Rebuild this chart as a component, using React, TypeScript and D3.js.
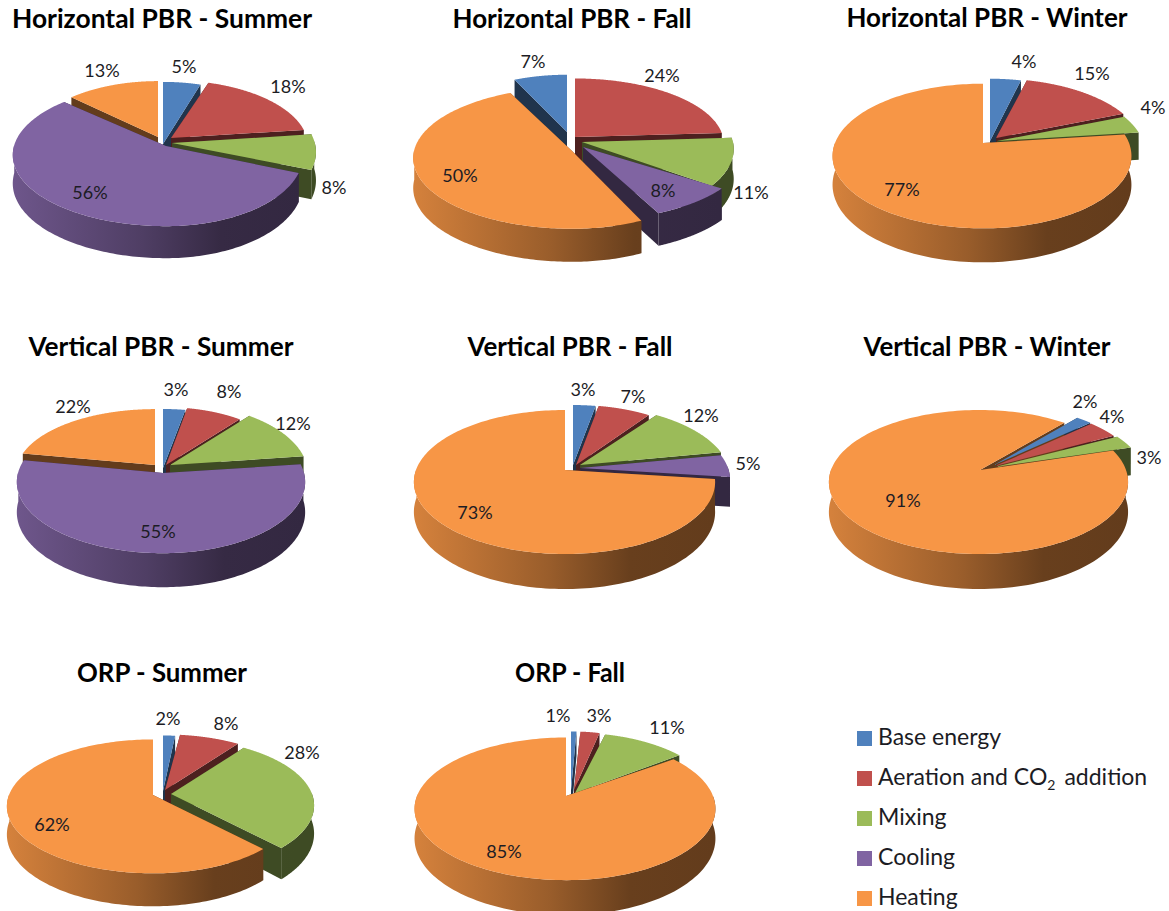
import React from "react";
import * as d3 from "d3";

const categories = ["Base energy", "Aeration and CO2 addition", "Mixing", "Cooling", "Heating"];
const colors = ["#4f81bd", "#c0504d", "#9bbb59", "#8064a2", "#f79646"];

const titles = [
  "Horizontal PBR - Summer", "Horizontal PBR - Fall", "Horizontal PBR - Winter",
  "Vertical PBR - Summer", "Vertical PBR - Fall", "Vertical PBR - Winter",
  "ORP - Summer", "ORP - Fall",
];
const horizontalSummer = [5, 18, 8, 56, 13];
const horizontalFall = [7, 24, 11, 8, 50];
const horizontalWinter = [4, 15, 4, 0, 77];
const verticalSummer = [3, 8, 12, 55, 22];
const verticalFall = [3, 7, 12, 5, 73];
const verticalWinter = [2, 4, 3, 0, 91];
const orpSummer = [2, 8, 28, 0, 62];
const orpFall = [1, 3, 11, 0, 85];
const seriesValues = [
  horizontalSummer, horizontalFall, horizontalWinter,
  verticalSummer, verticalFall, verticalWinter,
  orpSummer, orpFall,
];

// Layout only: projection of each pie and the pull-out of each slice.
type Layout = {
  tx: number; tw: number; ty: number;
  cx: number; cy: number; rl: number; rr: number; ry: number; t: number; depth: number;
  rot: number; order: number[];
  sl: number[][]; lab: number[][];
};
const layouts: Layout[] = [
  { tx: 162, tw: 300, ty: 28, cx: 165, cy: 143, rl: 152, rr: 136, ry: 70, t: 0.127, depth: 32, rot: 0, order: [0, 1, 4, 2, 3],
    sl: [[-2, 1, 1, 1], [6, -5, 1, 0.93], [7, 0, 1.05, 1], [1, 3, 1, 1], [-7, -6, 0.85, 0.9]],
    lab: [[184, 67], [288, 87], [334, 188], [90, 193], [102, 71]] },
  { tx: 572, tw: 239, ty: 28, cx: 572, cy: 151, rl: 158, rr: 148, ry: 70, t: 0.1, depth: 33, rot: -25.2, order: [0, 1, 2, 3, 4],
    sl: [[-5, -19, 0.85, 0.9], [3, -14, 1, 0.92], [10, -9, 1.02, 1], [11, -4, 1.09, 0.95], [0, 0, 1, 1]],
    lab: [[533, 62], [662, 76], [751, 193], [663, 191], [460, 176]] },
  { tx: 987, tw: 281, ty: 27, cx: 983, cy: 143, rl: 148, rr: 146, ry: 70, t: 0.18, depth: 34, rot: 0, order: [0, 1, 2, 4],
    sl: [[7, -2, 1, 1.05], [13, -5, 1, 1], [14, -2, 1, 1], [0, 0, 1, 1], [0, 0, 1, 1]],
    lab: [[1024, 62], [1092, 74], [1153, 108], [0, 0], [902, 190]] },
  { tx: 161, tw: 265, ty: 356, cx: 163, cy: 472, rl: 145, rr: 141, ry: 70, t: 0.127, depth: 34, rot: 0, order: [0, 1, 4, 2, 3],
    sl: [[0, -4, 0.95, 0.95], [3, -7, 0.9, 0.93], [7, -7, 0.97, 1], [0, 1, 1, 1], [-8, -7, 0.95, 0.9]],
    lab: [[176, 390], [229, 392], [293, 424], [158, 532], [73, 407]] },
  { tx: 570, tw: 205, ty: 356, cx: 565, cy: 470, rl: 149, rr: 148, ry: 70, t: 0.167, depth: 35, rot: 0, order: [0, 1, 2, 3, 4],
    sl: [[8, -5, 0.95, 1], [11, -5, 0.95, 1], [15, -5, 1, 1], [15, -2, 1, 1], [0, 0, 1, 1]],
    lab: [[583, 390], [633, 397], [701, 416], [748, 464], [475, 513]] },
  { tx: 987, tw: 247, ty: 356, cx: 980, cy: 470, rl: 149, rr: 146, ry: 70, t: 0.167, depth: 35, rot: 40.6, order: [0, 1, 2, 4],
    sl: [[14, -5, 0.99, 1], [15, -4, 0.99, 1], [15, -3, 1.02, 1], [0, 0, 1, 1], [0, 0, 1, 1]],
    lab: [[1085, 402], [1112, 417], [1149, 458], [0, 0], [903, 501]] },
  { tx: 162, tw: 170, ty: 682, cx: 153, cy: 795, rl: 144, rr: 141, ry: 65, t: 0.17, depth: 33, rot: 0, order: [0, 1, 2, 4],
    sl: [[10, -4, 0.8, 1], [12, -5, 1, 1], [18, -1, 1, 1], [0, 0, 1, 1], [0, 0, 1, 1]],
    lab: [[168, 719], [226, 724], [302, 753], [0, 0], [52, 825]] },
  { tx: 570, tw: 110, ty: 682, cx: 566, cy: 796, rl: 149, rr: 147, ry: 69, t: 0.18, depth: 35, rot: 0, order: [0, 1, 2, 4],
    sl: [[5, -6, 0.7, 1], [8, -6, 0.82, 1], [9, -3, 0.97, 1.03], [0, 0, 1, 1], [0, 0, 1, 1]],
    lab: [[558, 716], [599, 716], [667, 728], [0, 0], [504, 852]] },
];

const legendY = [731, 771, 811, 851, 891];
const FONT = "Lato, 'Open Sans', sans-serif";
const TEXT = "#1c1c24";

const shade = (c: string, f: number) => {
  const r = d3.rgb(c);
  return d3.rgb(r.r * f, r.g * f, r.b * f).formatHex();
};
const line = d3.line<[number, number]>();

function Pie3D({ values, layout, id }: { values: number[]; layout: Layout; id: number }) {
  const { cx, cy, rl, rr, ry, t, depth, rot, order, sl, lab } = layout;
  const r0 = (rot * Math.PI) / 180;
  const arcs = d3.pie<number>().sort(null).startAngle(r0).endAngle(r0 + 2 * Math.PI)(values);

  const persp = (a: number) => 1 / (1 + t * Math.cos(a));
  const proj = (i: number, a: number): [number, number] => {
    const [dx, dy, sx, sy] = sl[i];
    const s = Math.sin(a), c = Math.cos(a);
    const p = persp(a);
    return [cx + dx + s * (s < 0 ? rl : rr) * sx * p, cy + dy - c * ry * sy * p];
  };
  // wall height also follows the perspective: tallest at the front of the pie
  const drop = (a: number | null) => depth * (1 - t) * (a === null ? 1 : persp(a));
  const down = (q: [number, number], a: number | null): [number, number] => [q[0], q[1] + drop(a)];

  const grads = colors.map((c, i) => (
    <linearGradient key={i} id={`w${id}-${i}`} gradientUnits="userSpaceOnUse" x1={cx - rl} x2={cx + rr} y1={0} y2={0}>
      <stop offset="0" stopColor={shade(c, 0.86)} />
      <stop offset="0.45" stopColor={shade(c, 0.62)} />
      <stop offset="0.72" stopColor={shade(c, 0.42)} />
      <stop offset="1" stopColor={shade(c, 0.4)} />
    </linearGradient>
  ));

  const built = order.map((i) => {
    const arc = arcs[i];
    const angles = d3.range(0, 181).map((k) => arc.startAngle + ((arc.endAngle - arc.startAngle) * k) / 180);
    const outer = angles.map((a) => proj(i, a));
    // only the part of the rim that faces the viewer has a visible wall
    const frontAngles = angles.filter((a) => Math.cos(a) <= 0.03);
    const frontTop = frontAngles.map((a) => proj(i, a));
    const frontLow = frontTop.map((q, k) => down(q, frontAngles[k])).reverse();
    const apex: [number, number] = [cx + sl[i][0], cy + sl[i][1]];
    const face = (q: [number, number], a: number) => line([apex, q, down(q, a), down(apex, null)]) + "Z";
    const dark = shade(colors[i], 0.4);
    return {
      i,
      faces: (
        <g key={`f${i}`}>
          <path d={face(outer[0], angles[0])} fill={dark} />
          <path d={face(outer[180], angles[180])} fill={dark} />
        </g>
      ),
      body: (
        <g key={`b${i}`}>
          {frontTop.length > 1 ? <path d={line([...frontTop, ...frontLow]) + "Z"} fill={`url(#w${id}-${i})`} /> : null}
          <path d={line([apex, ...outer]) + "Z"} fill={colors[i]} />
        </g>
      ),
    };
  });

  return (
    <g>
      <defs>{grads}</defs>
      {built.map((b) => b.faces)}
      {built.map((b) => b.body)}
      <text x={layout.tx} y={layout.ty} textAnchor="middle" fontFamily={FONT} fontWeight={700} fontSize={26}
        fill="#000" textLength={layout.tw} lengthAdjust="spacingAndGlyphs">{titles[id]}</text>
      {values.map((v, i) => v > 0 ? (
        <text key={i} x={lab[i][0]} y={lab[i][1]} dy="0.36em" textAnchor="middle" fontFamily={FONT} fontSize={18} fill={TEXT}>{`${v}%`}</text>
      ) : null)}
    </g>
  );
}

export default function App() {
  return (
    <svg width={1169} height={911} style={{ position: "absolute", left: 0, top: 0, display: "block", background: "#fff" }}>
      {seriesValues.map((v, i) => <Pie3D key={i} id={i} values={v} layout={layouts[i]} />)}
      {categories.map((c, i) => (
        <g key={c}>
          <rect x={857} y={legendY[i]} width={15} height={15} fill={colors[i]} />
          <text x={878} y={legendY[i] + 14} fontFamily={FONT} fontSize={23} fill={TEXT}>
            {i === 1 ? (
              <>
                Aeration and CO
                <tspan dy={5} fontSize={14}>2</tspan>
                <tspan dy={-5} dx={9}>addition</tspan>
              </>
            ) : c}
          </text>
        </g>
      ))}
    </svg>
  );
}
